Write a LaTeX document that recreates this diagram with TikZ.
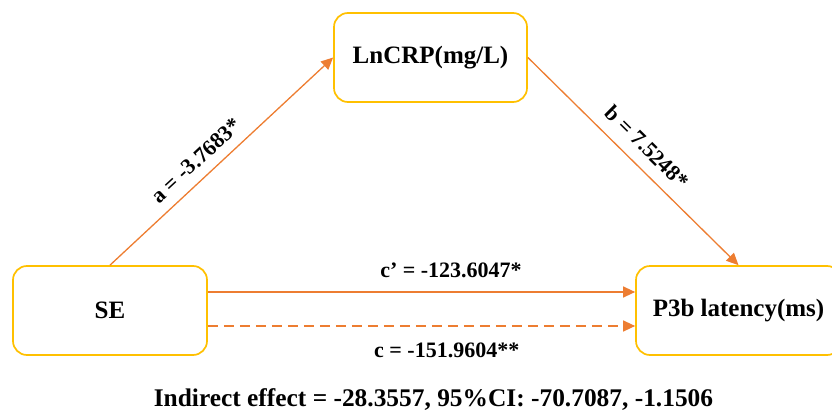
\documentclass[tikz,border=0pt]{standalone}
\usepackage{fontspec}
\setmainfont{Liberation Serif}
\usetikzlibrary{arrows.meta}
\definecolor{boxc}{HTML}{FFC000}
\definecolor{arrc}{HTML}{ED7D31}
\begin{document}
\begin{tikzpicture}[x=1pt,y=-1pt,
  box/.style={draw=boxc, line width=1.7pt, rounded corners=14pt, fill=white,
    font=\fontsize{25}{30}\selectfont\bfseries, align=center, inner sep=0pt,
    minimum height=89pt},
  arr/.style={draw=arrc, line width=1.3pt, -{Triangle[length=12pt,width=11pt]}},
  lab/.style={font=\fontsize{22}{26}\selectfont\bfseries, inner sep=0pt}]
\useasboundingbox (0,0) rectangle (832,412);
\node[box, minimum width=193pt] (ln) at (430.5,57.5) {LnCRP(mg/L)};
\node[box, minimum width=194pt] (se) at (110,310.5) {SE};
\node[box, minimum width=205pt] (p3) at (738.5,310.5) {P3b latency(ms)};
\draw[arr] (se.north) -- node[lab, sloped, pos=.44, yshift=18pt] {a = -3.7683*} (ln.west);
\draw[arr] (ln.east) -- node[lab, sloped, pos=.5, yshift=20pt] {b = 7.5248*} (p3.north);
\draw[arr] ([yshift=18.5pt]se.east) -- node[lab, pos=.569, anchor=base, yshift=15pt] {c’ = -123.6047*} ([yshift=18.5pt]p3.west);
\draw[arr, dash pattern=on 10pt off 6pt] ([yshift=-15.5pt]se.east) -- node[lab, pos=.559, anchor=base, yshift=-31pt] {c = -151.9604**} ([yshift=-15.5pt]p3.west);
\node[font=\fontsize{25.4}{30}\selectfont\bfseries, anchor=base, inner sep=0pt] (ie) at (433.5,406) {Indirect effect = -28.3557, 95\%CI: -70.7087, -1.1506};
\end{tikzpicture}
\end{document}
